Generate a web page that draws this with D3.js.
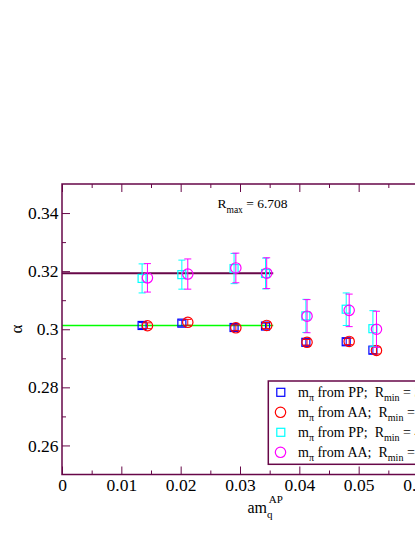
<!DOCTYPE html>
<html><head><meta charset="utf-8">
<script src="https://cdn.jsdelivr.net/npm/d3@7"></script>
<style>
html,body{margin:0;padding:0;background:#fff;}
svg text{font-family:"Liberation Serif","Times New Roman",Times,"DejaVu Serif",serif !important;white-space:pre;}
</style></head><body>
<svg id="chart" width="415" height="537"></svg>
<script>
// ---- data ----
const xTicks = [0, 0.01, 0.02, 0.03, 0.04, 0.05, 0.06];
const yTicks = [0.26, 0.28, 0.30, 0.32, 0.34];
const xMinor = [0.005, 0.015, 0.025, 0.035, 0.045, 0.055];
const yMinor = [0.27, 0.29, 0.31, 0.33];

const ppX = [0.0135, 0.0202, 0.0290, 0.0343, 0.0411, 0.0479, 0.0524];
const aaX = [0.0144, 0.0212, 0.0293, 0.0345, 0.0413, 0.0484, 0.0530];

const ppY1 = [0.3013, 0.3021, 0.3006, 0.3011, 0.2955, 0.2957, 0.2928];
const ppE1 = [0.0010, 0.0010, 0.0010, 0.0010, 0.0010, 0.0011, 0.0012];
const aaY1 = [0.3012, 0.3024, 0.3005, 0.3013, 0.2955, 0.2958, 0.2927];
const aaE1 = [0.0010, 0.0010, 0.0010, 0.0010, 0.0010, 0.0011, 0.0012];
const ppY2 = [0.3175, 0.3188, 0.3209, 0.3192, 0.3046, 0.3069, 0.3002];
const ppE2 = [0.0050, 0.0050, 0.0052, 0.0053, 0.0057, 0.0056, 0.0062];
const aaY2 = [0.3177, 0.3190, 0.3211, 0.3193, 0.3045, 0.3065, 0.3000];
const aaE2 = [0.0049, 0.0052, 0.0051, 0.0053, 0.0057, 0.0056, 0.0062];

const fitHighY = 0.3193;
const fitLowY = 0.3013;
const fitXRange = [0, 0.0356];

const legendLabels = [
  ["PP", "3.873"],
  ["AA", "3.873"],
  ["PP", "4.583"],
  ["AA", "4.583"]
];
const rmaxLabel = "6.708";

// ---- drawing ----
const maroon = "#670748";
const svg = d3.select("#chart");
svg.append("rect").attr("width", 415).attr("height", 537).attr("fill", "#fff");

const x = d3.scaleLinear().domain([0, 0.06]).range([62, 418]);
const y = d3.scaleLinear().domain([0.25, 0.35]).range([474.5, 184]);
const fmt = d => d3.format("~g")(d);

function styleAxis(g) {
  g.attr("font-family", null).attr("font-size", null);
  g.select(".domain").remove();
  g.selectAll(".tick line").attr("stroke", maroon).attr("stroke-width", 1);
  g.selectAll(".tick text").attr("fill", "#000").style("font-size", "17.5px");
}

// major/minor ticks
svg.append("g").attr("transform", "translate(0,474.5)")
  .call(d3.axisBottom(x).tickValues(xTicks).tickSize(-8).tickPadding(4.2).tickFormat(fmt)).call(styleAxis);
svg.append("g").attr("transform", "translate(0,474.5)")
  .call(d3.axisBottom(x).tickValues(xMinor).tickSize(-4).tickFormat("")).call(styleAxis);
svg.append("g").attr("transform", "translate(0,184)")
  .call(d3.axisTop(x).tickValues(xTicks).tickSize(-8).tickFormat("")).call(styleAxis);
svg.append("g").attr("transform", "translate(0,184)")
  .call(d3.axisTop(x).tickValues(xMinor).tickSize(-4).tickFormat("")).call(styleAxis);
svg.append("g").attr("transform", "translate(62,0)")
  .call(d3.axisLeft(y).tickValues(yTicks).tickSize(-8).tickPadding(3.5).tickFormat(fmt)).call(styleAxis);
svg.append("g").attr("transform", "translate(62,0)")
  .call(d3.axisLeft(y).tickValues(yMinor).tickSize(-4).tickFormat("")).call(styleAxis);

// fit lines
svg.append("line").attr("x1", x(fitXRange[0])).attr("x2", x(fitXRange[1]))
  .attr("y1", y(fitLowY)).attr("y2", y(fitLowY)).attr("stroke", "#00ff00").attr("stroke-width", 1.5);
svg.append("line").attr("x1", x(fitXRange[0])).attr("x2", x(fitXRange[1]))
  .attr("y1", y(fitHighY)).attr("y2", y(fitHighY)).attr("stroke", maroon).attr("stroke-width", 2);

const series = [
  {xs: ppX, ys: ppY1, es: ppE1, color: "#0000ff", shape: "square"},
  {xs: aaX, ys: aaY1, es: aaE1, color: "#ff0000", shape: "circle"},
  {xs: ppX, ys: ppY2, es: ppE2, color: "#00ffff", shape: "square"},
  {xs: aaX, ys: aaY2, es: aaE2, color: "#ff00ff", shape: "circle"}
];

function marker(g, shape, cx, cy, color) {
  if (shape === "square") {
    g.append("rect").attr("x", cx - 4).attr("y", cy - 4).attr("width", 8).attr("height", 8)
      .attr("fill", "none").attr("stroke", color).attr("stroke-width", 1.2);
  } else {
    g.append("circle").attr("cx", cx).attr("cy", cy).attr("r", 5.2)
      .attr("fill", "none").attr("stroke", color).attr("stroke-width", 1.2);
  }
}

series.forEach(s => {
  const g = svg.append("g");
  s.xs.forEach((xv, i) => {
    const cx = x(xv), cy = y(s.ys[i]);
    const top = y(s.ys[i] + s.es[i]), bot = y(s.ys[i] - s.es[i]);
    g.append("line").attr("x1", cx).attr("x2", cx).attr("y1", top).attr("y2", bot)
      .attr("stroke", s.color).attr("stroke-width", 1);
    [top, bot].forEach(yy => g.append("line").attr("x1", cx - 3.5).attr("x2", cx + 3.5)
      .attr("y1", yy).attr("y2", yy).attr("stroke", s.color).attr("stroke-width", 1));
    marker(g, s.shape, cx, cy, s.color);
  });
});

// frame
svg.append("rect").attr("x", 62).attr("y", 184).attr("width", 356).attr("height", 290.5)
  .attr("fill", "none").attr("stroke", maroon).attr("stroke-width", 1.5);

// R_max label
const rt = svg.append("text").attr("x", 217.5).attr("y", 208.3).style("font-size", "13.5px");
rt.append("tspan").text("R");
rt.append("tspan").attr("dy", 5).style("font-size", "9.5px").text("max");
rt.append("tspan").attr("dy", -5).text(" = " + rmaxLabel);

// legend
const lg = svg.append("g");
lg.append("rect").attr("x", 268.3).attr("y", 381).attr("width", 200).attr("height", 83.3)
  .attr("fill", "#fff").attr("stroke", maroon).attr("stroke-width", 1.5);
legendLabels.forEach((lab, i) => {
  const cy = 392.3 + i * 20;
  const s = series[i];
  if (s.shape === "square") {
    lg.append("rect").attr("x", 276.8).attr("y", cy - 4).attr("width", 8).attr("height", 8)
      .attr("fill", "none").attr("stroke", s.color).attr("stroke-width", 1.2);
  } else {
    lg.append("circle").attr("cx", 280.5).attr("cy", cy).attr("r", 5.2)
      .attr("fill", "none").attr("stroke", s.color).attr("stroke-width", 1.2);
  }
  const t = lg.append("text").attr("x", 298).attr("y", cy + 5).style("font-size", "14px");
  t.append("tspan").text("m");
  t.append("tspan").attr("dy", 4).style("font-size", "10px").text("π");
  t.append("tspan").attr("dy", -4).text(" from " + lab[0] + ";  R");
  t.append("tspan").attr("dy", 4).style("font-size", "10px").text("min");
  t.append("tspan").attr("dy", -4).text(" = " + lab[1]);
});

// axis titles
const xt = svg.append("text").attr("x", 247.5).attr("y", 513).style("font-size", "16px");
xt.append("tspan").text("am");
xt.append("tspan").attr("dy", 5).style("font-size", "11px").text("q");
xt.append("tspan").attr("x", 268.8).attr("dy", -15).style("font-size", "11px").text("AP");

svg.append("text").attr("transform", "translate(22,329) rotate(-90)")
  .attr("text-anchor", "middle").style("font-size", "17px").text("α");
</script>
</body></html>
